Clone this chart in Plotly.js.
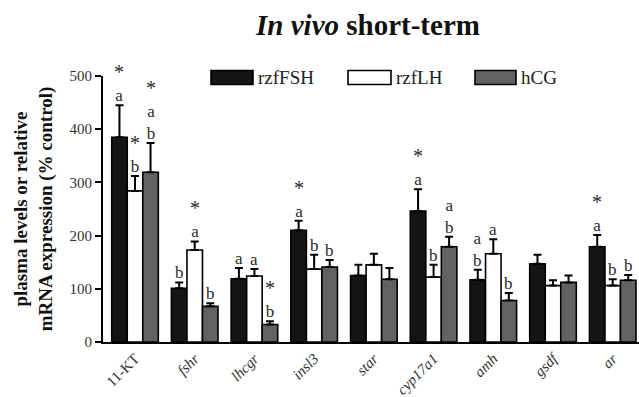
<!DOCTYPE html>
<html>
<head>
<meta charset="utf-8">
<script src="https://cdn.plot.ly/plotly-3.0.1.min.js"></script>
<style>html,body{margin:0;padding:0;background:#fff;}#chart{width:639px;height:397px;}</style>
</head>
<body>
<div id="chart"></div>
<script>
// ---- data ----
const categories = ["11-KT", "fshr", "lhcgr", "insl3", "star", "cyp17a1", "amh", "gsdf", "ar"];
const tickLabels = ["11-KT", "<i>fshr</i>", "<i>lhcgr</i>", "<i>insl3</i>", "<i>star</i>", "<i>cyp17a1</i>", "<i>amh</i>", "<i>gsdf</i>", "<i>ar</i>"];
const seriesNames = ["rzfFSH", "rzfLH", "hCG"];

const fshMean = [385, 101, 119, 210, 125, 246, 117, 147, 179];
const fshErrTop = [445, 112, 139, 228, 145, 287, 136, 164, 201];
const lhMean = [284, 173, 124, 137, 145, 122, 166, 106, 106];
const lhErrTop = [312, 189, 137, 164, 166, 145, 193, 116, 118];
const hcgMean = [319, 67, 33, 141, 118, 179, 78, 112, 116];
const hcgErrTop = [374, 73, 39, 154, 139, 198, 92, 125, 126];

const fshLabels = ["*<br>a", "b", "a", "*<br>a", "", "*<br>a", "a<br>b", "", "*<br>a"];
const lhLabels = ["*<br>b", "*<br>a", "a", "b", "", "b", "a", "", "b"];
const hcgLabels = ["*<br>a<br>b", "b", "*<br>b", "b", "", "a<br>b", "b", "", "b"];

const fills = ["#141414", "#ffffff", "#626262"];

// ---- layout helpers ----
const W = 639, H = 397;
const mL = 103, mR = 0, mT = 75.5, mB = 54.5;
const plotW = W - mL - mR, plotH = H - mT - mB;
const px2paperX = p => (p - mL) / plotW;
const py2paperY = p => (H - mB - p) / plotH;
const bargap = 0.22;
const barW = (1 - bargap) / 3;
const serif = "'Liberation Serif', 'Times New Roman', Times, serif";

const means = [fshMean, lhMean, hcgMean];
const tops = [fshErrTop, lhErrTop, hcgErrTop];
const labs = [fshLabels, lhLabels, hcgLabels];

const traces = means.map((m, s) => ({
  type: "bar",
  name: seriesNames[s],
  x: categories,
  y: m,
  marker: {color: fills[s], line: {color: "#000", width: 1.6}},
  error_y: {
    type: "data", symmetric: false,
    array: tops[s].map((t, i) => t - m[i]),
    arrayminus: m.map(() => 0),
    color: "#000", thickness: 2, width: 4
  },
  showlegend: false,
  hoverinfo: "skip"
}));

const annotations = [];
labs.forEach((arr, s) => {
  arr.forEach((txt, i) => {
    if (!txt) return;
    const styled = txt.replace(/\*/g, '<span style="font-size:20px">*</span>');
    annotations.push({
      x: i + (s - 1) * barW, y: tops[s][i], xref: "x", yref: "y",
      text: styled, showarrow: false, yanchor: "bottom", xanchor: "center",
      yshift: -2, align: "center",
      font: {family: serif, size: 17, color: "#2a2a2a"}
    });
  });
});

// custom legend
const shapes = [];
const legBoxes = [[211, 253], [348, 391], [475, 516]];
const legText = [256, 394, 519];
legBoxes.forEach((b, s) => {
  shapes.push({
    type: "rect", xref: "paper", yref: "paper",
    x0: px2paperX(b[0]), x1: px2paperX(b[1]),
    y0: py2paperY(84), y1: py2paperY(70),
    fillcolor: fills[s], line: {color: "#000", width: 1.6}
  });
  annotations.push({
    xref: "paper", yref: "paper", x: px2paperX(legText[s]), y: py2paperY(77),
    xanchor: "left", yanchor: "middle", showarrow: false, text: seriesNames[s],
    font: {family: serif, size: 19, color: "#222"}
  });
});

const layout = {
  width: W, height: H,
  font: {family: serif},
  margin: {l: mL, r: mR, t: mT, b: mB, pad: 0},
  paper_bgcolor: "#fff", plot_bgcolor: "#fff",
  barmode: "group", bargap: bargap, bargroupgap: 0,
  title: {
    text: "<i>In vivo</i> short-term",
    font: {family: serif, size: 29, color: "#111", weight: "bold"},
    x: 368 / W, xref: "container", xanchor: "center",
    y: 1 - 25 / H, yref: "container", yanchor: "middle"
  },
  xaxis: {
    type: "category",
    range: [-0.536, 8.44],
    tickvals: categories, ticktext: tickLabels,
    tickangle: -45,
    tickfont: {family: serif, size: 15, color: "#333"},
    showline: true, linecolor: "#000", linewidth: 2,
    ticks: "", showgrid: false, zeroline: false,
    automargin: false
  },
  yaxis: {
    range: [0, 500],
    tickvals: [0, 100, 200, 300, 400, 500],
    ticks: "outside", ticklen: 6, tickwidth: 2, tickcolor: "#000",
    tickfont: {family: serif, size: 15, color: "#333"},
    showline: true, linecolor: "#000", linewidth: 2,
    showgrid: false, zeroline: false,
    automargin: false,
    title: {
      text: "plasma levels or relative<br>mRNA expression (% control)",
      font: {family: serif, size: 19, color: "#111", weight: "bold"},
      standoff: 12
    }
  },
  annotations: annotations,
  shapes: shapes,
  showlegend: false
};

Plotly.newPlot("chart", traces, layout, {staticPlot: true, displayModeBar: false});
</script>
</body>
</html>
